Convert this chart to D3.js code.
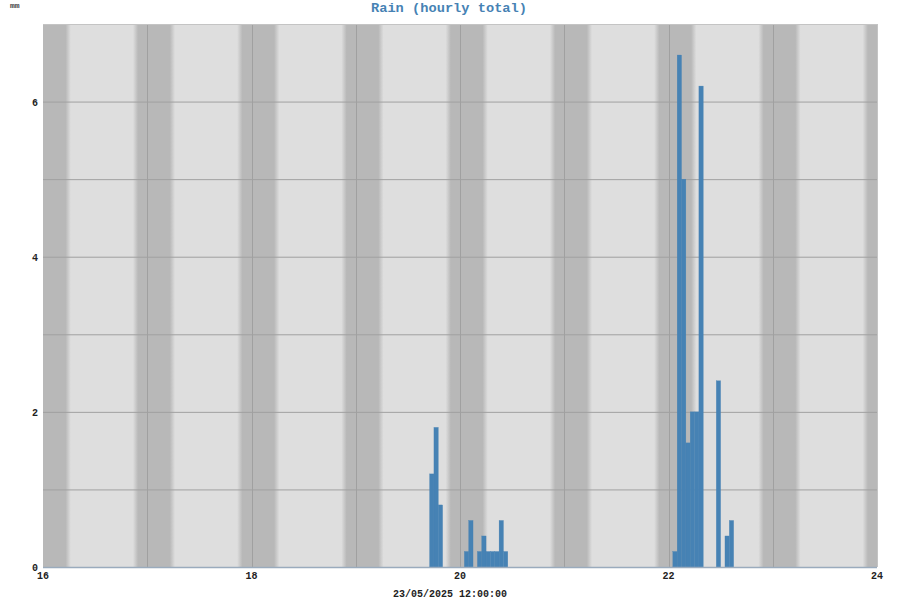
<!DOCTYPE html>
<html><head><meta charset="utf-8">
<script src="https://cdn.jsdelivr.net/npm/d3@7"></script>
<style>body{margin:0;background:#fff}</style>
</head><body>
<svg id="c" width="900" height="600"></svg>
<script>
const title = "Rain (hourly total)";
const unitLabel = "mm";
const xLabel = "23/05/2025 12:00:00";
// day of month (May 2025), hour of day, hourly rain total (mm)
const rainDay  = [19, 19, 19, 20, 20, 20, 20, 20, 20, 20, 20, 20, 22, 22, 22, 22, 22, 22, 22, 22, 22, 22];
const rainHour = [17, 18, 19,  1,  2,  4,  5,  6,  7,  8,  9, 10,  1,  2,  3,  4,  5,  6,  7, 11, 13, 14];
const rainMm   = [1.2,1.8,0.8,0.2,0.6,0.2,0.4,0.2,0.2,0.2,0.6,0.2,0.2,6.6,5.0,1.6,2.0,2.0,6.2,2.4,0.4,0.6];
const xTicks = [16, 18, 20, 22, 24];
const yTicks = [0, 2, 4, 6];
const dayGrid = [17, 18, 19, 20, 21, 22, 23];
const yGrid = [1, 2, 3, 4, 5, 6];
// twilight hours (approx.) for night shading
const dawnStart = 5.2, dawnEnd = 6.4, duskStart = 20.7, duskEnd = 21.9;

const svg = d3.select("#c");
const L = 43, R = 877, T = 24, B = 567;
const x = d3.scaleLinear().domain([16, 24]).range([L, R]);
const y = d3.scaleLinear().domain([0, 7]).range([B, T]);
const dark = "#b8b8b8", light = "#dedede";

// night/day gradient
const defs = svg.append("defs");
const grad = defs.append("linearGradient").attr("id", "nd")
  .attr("gradientUnits", "userSpaceOnUse").attr("x1", L).attr("x2", R).attr("y1", 0).attr("y2", 0);
const stops = [];
for (let d = 16; d <= 24; d++) {
  stops.push([d + dawnStart/24, dark], [d + dawnEnd/24, light], [d + duskStart/24, light], [d + duskEnd/24, dark]);
}
stops.unshift([16, dark]);
stops.filter(s => s[0] <= 24).forEach(s => {
  grad.append("stop").attr("offset", (x(s[0]) - L) / (R - L)).attr("stop-color", s[1]);
});
grad.append("stop").attr("offset", 1).attr("stop-color", dark);

svg.append("rect").attr("x", L).attr("y", T).attr("width", R - L).attr("height", B - T).attr("fill", "url(#nd)");

// grid
svg.append("g").selectAll("line").data(yGrid).join("line")
  .attr("x1", L).attr("x2", R).attr("y1", d => y(d) + 0.5).attr("y2", d => y(d) + 0.5)
  .attr("stroke", "#a0a0a0").attr("stroke-width", 1);
svg.append("g").selectAll("line").data(dayGrid).join("line")
  .attr("y1", T).attr("y2", B).attr("x1", d => Math.round(x(d)) + 0.5).attr("x2", d => Math.round(x(d)) + 0.5)
  .attr("stroke", "#a0a0a0").attr("stroke-width", 1);
// border
svg.append("line").attr("x1", L).attr("x2", R).attr("y1", T + 0.5).attr("y2", T + 0.5).attr("stroke", "#c4c4c4");
svg.append("line").attr("x1", R + 0.5).attr("x2", R + 0.5).attr("y1", T).attr("y2", B).attr("stroke", "#c4c4c4");

// bars
const data = rainDay.map((d, i) => ({t: d + rainHour[i] / 24, v: rainMm[i]}));
svg.append("g").selectAll("rect").data(data).join("rect")
  .attr("x", d => x(d.t)).attr("width", d => x(d.t + 1/24) - x(d.t))
  .attr("y", d => y(d.v)).attr("height", d => y(0) - y(d.v))
  .attr("fill", "#4682b4").attr("stroke", "#4682b4").attr("stroke-width", 0.3);

// bottom axis line
svg.append("line").attr("x1", L).attr("x2", R).attr("y1", B + 0.5).attr("y2", B + 0.5).attr("stroke", "#9aabbd").attr("stroke-width", 1.5);

const font = "'Liberation Mono', 'DejaVu Sans Mono', monospace";
// y tick labels
svg.append("g").selectAll("text").data(yTicks).join("text")
  .attr("x", 38).attr("y", d => y(d) + 4).attr("text-anchor", "end")
  .attr("font-family", font).attr("font-weight", "bold").attr("font-size", 10).attr("fill", "#222")
  .text(d => d);
// x tick labels
svg.append("g").selectAll("text").data(xTicks).join("text")
  .attr("x", d => x(d)).attr("y", 579).attr("text-anchor", "middle")
  .attr("font-family", font).attr("font-weight", "bold").attr("font-size", 10).attr("fill", "#222")
  .text(d => d);
// x label
svg.append("text").attr("x", 450).attr("y", 597).attr("text-anchor", "middle")
  .attr("font-family", font).attr("font-weight", "bold").attr("font-size", 10).attr("fill", "#222")
  .text(xLabel);
// title
svg.append("text").attr("x", 449).attr("y", 12).attr("text-anchor", "middle")
  .attr("font-family", font).attr("font-weight", "bold").attr("font-size", 13.7).attr("fill", "#4682b4")
  .text(title);
// unit
svg.append("text").attr("x", 10).attr("y", 8)
  .attr("font-family", font).attr("font-weight", "bold").attr("font-size", 8).attr("fill", "#444")
  .text(unitLabel);
</script>
</body></html>
